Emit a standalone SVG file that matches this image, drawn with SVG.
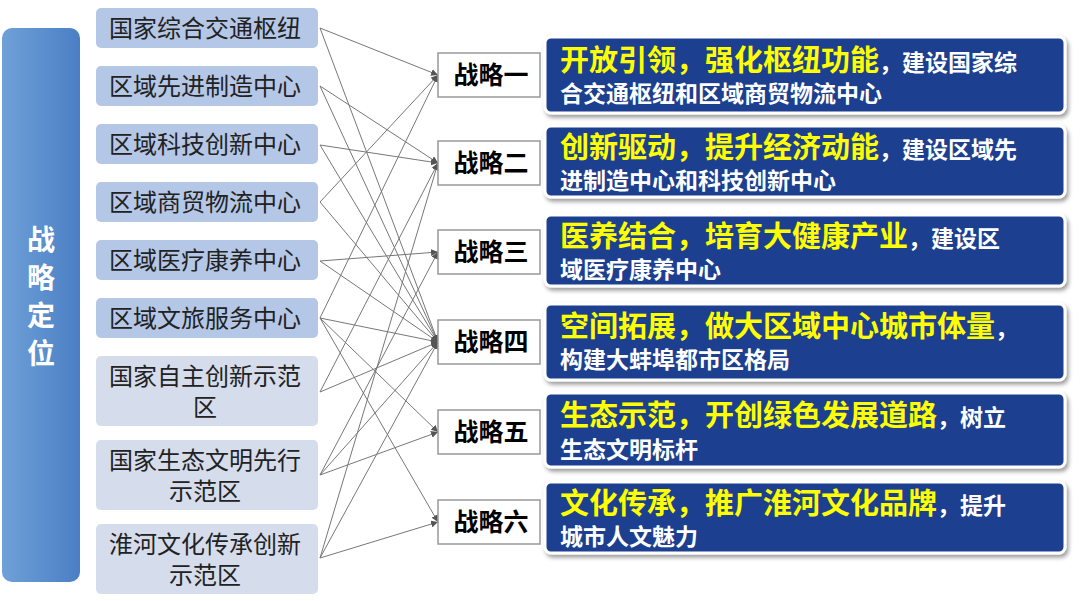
<svg xmlns="http://www.w3.org/2000/svg" width="1080" height="601" viewBox="0 0 1080 601">
<defs>
<linearGradient id="lg" x1="0" y1="0" x2="1" y2="0"><stop offset="0" stop-color="#6fa0d8"/><stop offset="1" stop-color="#4a7fc4"/></linearGradient>
<marker id="ar" viewBox="0 0 10 10" refX="10" refY="5" markerWidth="7" markerHeight="7" orient="auto"><path d="M0,0L10,5L0,10z" fill="#555"/></marker>
<filter id="sh" x="-5%" y="-10%" width="110%" height="130%"><feDropShadow dx="2" dy="3" stdDeviation="2" flood-color="#000" flood-opacity="0.4"/></filter>
</defs>
<style>
.t{font-family:"Noto Sans CJK SC",sans-serif;font-size:24px;fill:#222}
.s{fill:#fff;stroke:#999;stroke-width:1.5}
.st{font-family:"Noto Sans CJK SC",sans-serif;font-size:25px;font-weight:bold;fill:#000}
.rb{fill:#1f3f8f;stroke:#fff;stroke-width:3;filter:url(#sh)}
.y{font-family:"Noto Sans CJK SC",sans-serif;font-size:29px;font-weight:bold;fill:#ffff00}
.w{font-family:"Noto Sans CJK SC",sans-serif;font-size:23px;font-weight:bold;fill:#fff}
#conn line{stroke:#777;stroke-width:1;marker-end:url(#ar)}
</style>
<rect width="1080" height="601" fill="#fff"/>
<g id="pos"><rect x="2" y="28" width="78" height="554" rx="10" fill="url(#lg)"/>
<text font-family="Noto Sans CJK SC,sans-serif" font-size="28" font-weight="bold" fill="#fff" text-anchor="middle"><tspan x="41" y="250">战</tspan><tspan x="41" y="288">略</tspan><tspan x="41" y="326">定</tspan><tspan x="41" y="364">位</tspan></text></g>
<g id="conn">
<line x1="320" y1="28" x2="438" y2="75"/><line x1="320" y1="28" x2="438" y2="342"/>
<line x1="320" y1="86" x2="438" y2="163"/><line x1="320" y1="86" x2="438" y2="342"/>
<line x1="320" y1="145" x2="438" y2="163"/><line x1="320" y1="145" x2="438" y2="342"/>
<line x1="320" y1="202" x2="438" y2="75"/><line x1="320" y1="202" x2="438" y2="342"/>
<line x1="320" y1="261" x2="438" y2="252"/><line x1="320" y1="261" x2="438" y2="342"/>
<line x1="320" y1="318" x2="438" y2="75"/><line x1="320" y1="318" x2="438" y2="342"/><line x1="320" y1="318" x2="438" y2="432"/><line x1="320" y1="318" x2="438" y2="522"/>
<line x1="320" y1="392" x2="438" y2="342"/><line x1="320" y1="392" x2="438" y2="163"/>
<line x1="320" y1="475" x2="438" y2="432"/><line x1="320" y1="475" x2="438" y2="342"/><line x1="320" y1="475" x2="438" y2="252"/>
<line x1="320" y1="558" x2="438" y2="522"/><line x1="320" y1="558" x2="438" y2="342"/><line x1="320" y1="558" x2="438" y2="163"/>
</g>
<g id="n1"><rect x="96" y="8" width="222" height="40" rx="5" fill="#b4c7e7"/><text class="t" x="205" y="37" text-anchor="middle">国家综合交通枢纽</text></g>
<g id="n2"><rect x="96" y="66" width="222" height="40" rx="5" fill="#b4c7e7"/><text class="t" x="205" y="95" text-anchor="middle">区域先进制造中心</text></g>
<g id="n3"><rect x="96" y="124" width="222" height="40" rx="5" fill="#b4c7e7"/><text class="t" x="205" y="153" text-anchor="middle">区域科技创新中心</text></g>
<g id="n4"><rect x="96" y="182" width="222" height="40" rx="5" fill="#b4c7e7"/><text class="t" x="205" y="211" text-anchor="middle">区域商贸物流中心</text></g>
<g id="n5"><rect x="96" y="240" width="222" height="40" rx="5" fill="#b4c7e7"/><text class="t" x="205" y="269" text-anchor="middle">区域医疗康养中心</text></g>
<g id="n6"><rect x="96" y="298" width="222" height="40" rx="5" fill="#b4c7e7"/><text class="t" x="205" y="327" text-anchor="middle">区域文旅服务中心</text></g>
<g id="n7"><rect x="96" y="356" width="222" height="70" rx="5" fill="#d5dcec"/><text class="t" x="205" y="385" text-anchor="middle">国家自主创新示范</text><text class="t" x="205" y="416" text-anchor="middle">区</text></g>
<g id="n8"><rect x="96" y="440" width="222" height="70" rx="5" fill="#d5dcec"/><text class="t" x="205" y="469" text-anchor="middle">国家生态文明先行</text><text class="t" x="205" y="500" text-anchor="middle">示范区</text></g>
<g id="n9"><rect x="96" y="524" width="222" height="70" rx="5" fill="#d5dcec"/><text class="t" x="205" y="553" text-anchor="middle">淮河文化传承创新</text><text class="t" x="205" y="584" text-anchor="middle">示范区</text></g>
<g id="s1"><rect class="s" x="438" y="53" width="102" height="44"/><text class="st" x="491" y="84" text-anchor="middle">战略一</text></g>
<g id="s2"><rect class="s" x="438" y="141" width="102" height="44"/><text class="st" x="491" y="172" text-anchor="middle">战略二</text></g>
<g id="s3"><rect class="s" x="438" y="230" width="102" height="44"/><text class="st" x="491" y="261" text-anchor="middle">战略三</text></g>
<g id="s4"><rect class="s" x="438" y="320" width="102" height="44"/><text class="st" x="491" y="351" text-anchor="middle">战略四</text></g>
<g id="s5"><rect class="s" x="438" y="410" width="102" height="44"/><text class="st" x="491" y="441" text-anchor="middle">战略五</text></g>
<g id="s6"><rect class="s" x="438" y="500" width="102" height="44"/><text class="st" x="491" y="531" text-anchor="middle">战略六</text></g>
<g id="r1"><rect class="rb" x="545" y="37" width="520" height="76" rx="6"/><text x="560" y="71"><tspan class="y">开放引领，强化枢纽功能</tspan><tspan class="w">，建设国家综</tspan></text><text class="w" x="560" y="102">合交通枢纽和区域商贸物流中心</text></g>
<g id="r2"><rect class="rb" x="545" y="126" width="520" height="71" rx="6"/><text x="560" y="158"><tspan class="y">创新驱动，提升经济动能</tspan><tspan class="w">，建设区域先</tspan></text><text class="w" x="560" y="189">进制造中心和科技创新中心</text></g>
<g id="r3"><rect class="rb" x="545" y="215" width="520" height="71" rx="6"/><text x="560" y="247"><tspan class="y">医养结合，培育大健康产业</tspan><tspan class="w">，建设区</tspan></text><text class="w" x="560" y="278">域医疗康养中心</text></g>
<g id="r4"><rect class="rb" x="545" y="304" width="520" height="76" rx="6"/><text x="560" y="337"><tspan class="y">空间拓展，做大区域中心城市体量</tspan><tspan class="w">，</tspan></text><text class="w" x="560" y="368">构建大蚌埠都市区格局</text></g>
<g id="r5"><rect class="rb" x="545" y="393" width="520" height="74" rx="6"/><text x="560" y="426"><tspan class="y">生态示范，开创绿色发展道路</tspan><tspan class="w">，树立</tspan></text><text class="w" x="560" y="458">生态文明标杆</text></g>
<g id="r6"><rect class="rb" x="545" y="482" width="520" height="71" rx="6"/><text x="560" y="514"><tspan class="y">文化传承，推广淮河文化品牌</tspan><tspan class="w">，提升</tspan></text><text class="w" x="560" y="545">城市人文魅力</text></g>
</svg>
